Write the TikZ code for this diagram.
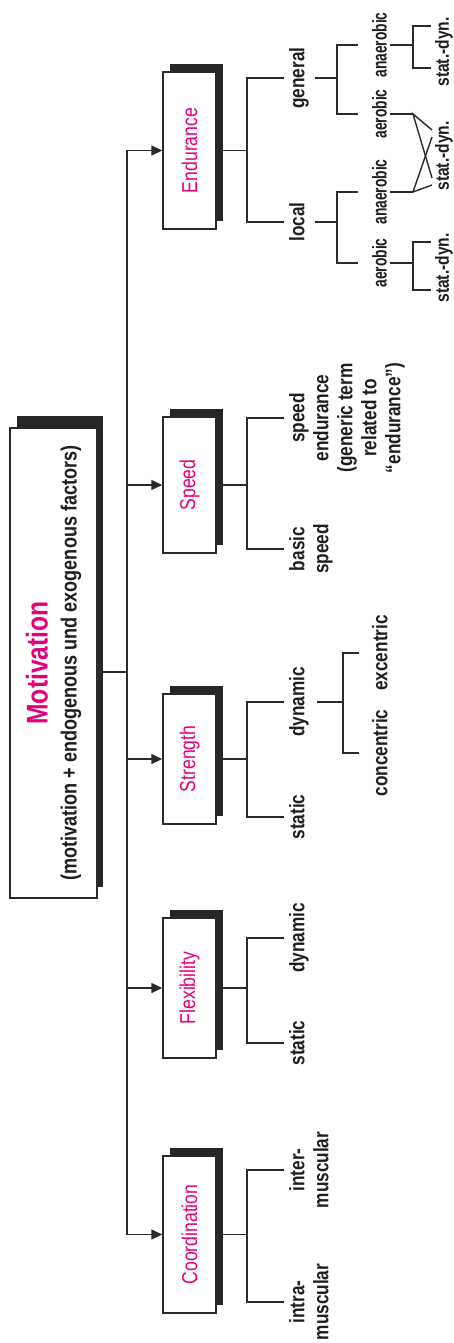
\documentclass[tikz,border=0pt]{standalone}
\usepackage{fontspec}
\setmainfont{Liberation Sans}[FakeStretch=0.82]
\newfontfamily\condfont{Liberation Sans}[FakeStretch=0.69]
\usetikzlibrary{arrows.meta}
\definecolor{pinkc}{HTML}{E4007C}
\definecolor{shadowc}{HTML}{262626}
\definecolor{linec}{HTML}{2A2A2A}
\definecolor{textc}{HTML}{1E1E1E}
\begin{document}
\begin{tikzpicture}[x=1pt,y=-1pt,
  conn/.style={draw=linec, line width=1.4pt},
  arr/.style={conn, -{Triangle[length=11pt,width=10pt]}},
  shad/.style={fill=shadowc},
  catnode/.style={draw=linec, line width=1.4pt, fill=white, rotate=90, minimum height=53pt, inner sep=0pt, text=pinkc, font=\fontsize{21.5}{24}\selectfont},
  lbl/.style={rotate=90, anchor=north, inner sep=0pt, align=center, text=textc, font=\fontsize{21}{24}\selectfont\bfseries},
  lbltwo/.style={lbl, font=\condfont\fontsize{20}{22}\selectfont\bfseries},
  lblthree/.style={lbl, font=\fontsize{19}{22}\selectfont\bfseries},
]
\useasboundingbox (0,0) rectangle (454,1343);

% main box
\fill[shad] (17,416) rectangle (103,887);
\node[draw=linec, line width=1.4pt, fill=white, rotate=90, minimum width=470pt, minimum height=87pt, inner sep=0pt, align=center, font=\fontsize{22}{29}\selectfont\bfseries, text=textc] (mot) at (53.5,663)
  {{\fontsize{30}{30}\selectfont\color{pinkc}Motivation}\\(motivation + endogenous und exogenous factors)};

% category boxes
\fill[shad] (170,64) rectangle (223,221);
\node[catnode, minimum width=157pt] (end) at (189.5,150.5) {Endurance};
\fill[shad] (170,409) rectangle (223,545);
\node[catnode, minimum width=136pt] (spd) at (189.5,485) {Speed};
\fill[shad] (170,686) rectangle (223,816);
\node[catnode, minimum width=130pt] (str) at (189.5,759) {Strength};
\fill[shad] (170,910) rectangle (223,1050);
\node[catnode, minimum width=140pt] (flx) at (189.5,988) {Flexibility};
\fill[shad] (170,1148) rectangle (223,1305);
\node[catnode, minimum width=157pt] (coo) at (189.5,1234.5) {Coordination};

% trunk
\coordinate (tr) at (127,672);
\draw[conn] (mot.south |- tr) -- (tr);
\draw[conn] (end.north -| tr) -- (coo.north -| tr);
\draw[arr] (end.north -| tr) -- (end.north);
\draw[arr] (spd.north -| tr) -- (spd.north);
\draw[arr] (str.north -| tr) -- (str.north);
\draw[arr] (flx.north -| tr) -- (flx.north);
\draw[arr] (coo.north -| tr) -- (coo.north);

% columns
\coordinate (c1) at (247,0);
\coordinate (c1b) at (315,0);
\coordinate (c2) at (337,0);
\coordinate (c2s) at (343,0);
\coordinate (c2b) at (390,0);
\coordinate (c3) at (413,0);

% level 1 labels
\node[lbl] (gen) at (289,78) {general};
\node[lbl] (loc) at (289,222) {local};
\node[lbl] (spe) at (289,418) {speed\\endurance\\(generic term\\related to\\“endurance”)};
\node[lbl] (bas) at (289,549) {basic\\speed};
\node[lbl] (sdyn) at (289,702) {dynamic};
\node[lbl] (sstat) at (289,817) {static};
\node[lbl] (fdyn) at (289,938) {dynamic};
\node[lbl] (fstat) at (289,1043) {static};
\node[lbl] (inter) at (289,1170) {inter-\\muscular};
\node[lbl] (intra) at (289,1302) {intra-\\muscular};

% level 2 labels
\node[lbltwo] (gan) at (372,45) {anaerobic};
\node[lbltwo] (gae) at (372,114) {aerobic};
\node[lbltwo] (lan) at (372,192) {anaerobic};
\node[lbltwo] (lae) at (372,263) {aerobic};
\node[lbl] (exc) at (372,653) {excentric};
\node[lbl] (con) at (372,753) {concentric};

% level 3 labels
\node[lblthree] (sd1) at (435,52) {stat.-dyn.};
\node[lblthree] (sd2) at (435,156) {stat.-dyn.};
\node[lblthree] (sd3) at (435,268) {stat.-dyn.};

% box -> level 1
\foreach \b/\p/\q in {end/gen/loc, spd/spe/bas, str/sdyn/sstat, flx/fdyn/fstat, coo/inter/intra}{
  \draw[conn] (\b.south) -- (\b.south -| c1);
  \draw[conn] (\b.south -| c1) |- ([xshift=-5pt]\p.north);
  \draw[conn] (\b.south -| c1) |- ([xshift=-5pt]\q.north);
}

% level 1 -> level 2
\draw[conn] (gen -| c1b) -- (gen -| c2);
\draw[conn] (gen -| c2) |- ([xshift=-14pt]gan.north);
\draw[conn] (gen -| c2) |- ([xshift=-14pt]gae.north);
\draw[conn] (loc -| c1b) -- (loc -| c2);
\draw[conn] (loc -| c2) |- ([xshift=-14pt]lan.north);
\draw[conn] (loc -| c2) |- ([xshift=-14pt]lae.north);
\draw[conn] ([xshift=2pt]sdyn -| c1b) -- (sdyn -| c2s);
\draw[conn] (sdyn -| c2s) |- ([xshift=-13pt]exc.north);
\draw[conn] (sdyn -| c2s) |- ([xshift=-13pt]con.north);

% level 2 -> level 3
\coordinate (sd1a) at (431,26);
\coordinate (sd1b) at (431,68);
\draw[conn] (gan -| c2b) -- (gan -| c3);
\draw[conn] (sd1a) -| (gan -| c3) |- (sd1b);

\coordinate (sd3a) at (431,242);
\coordinate (sd3b) at (431,290);
\draw[conn] (lae -| c2b) -- (lae -| c3);
\draw[conn] (sd3a) -| (lae -| c3) |- (sd3b);

\coordinate (x1) at (432,130);
\coordinate (x2) at (432,137);
\coordinate (x3) at (432,178);
\coordinate (x4) at (432,185);
\draw[conn] (gae -| c2b) -- (gae -| c3) coordinate (xa);
\draw[conn] (lan -| c2b) -- (lan -| c3) coordinate (xb);
\draw[conn] (x1) -- (xa) -- (x3);
\draw[conn] (x2) -- (xb) -- (x4);
\end{tikzpicture}
\end{document}
